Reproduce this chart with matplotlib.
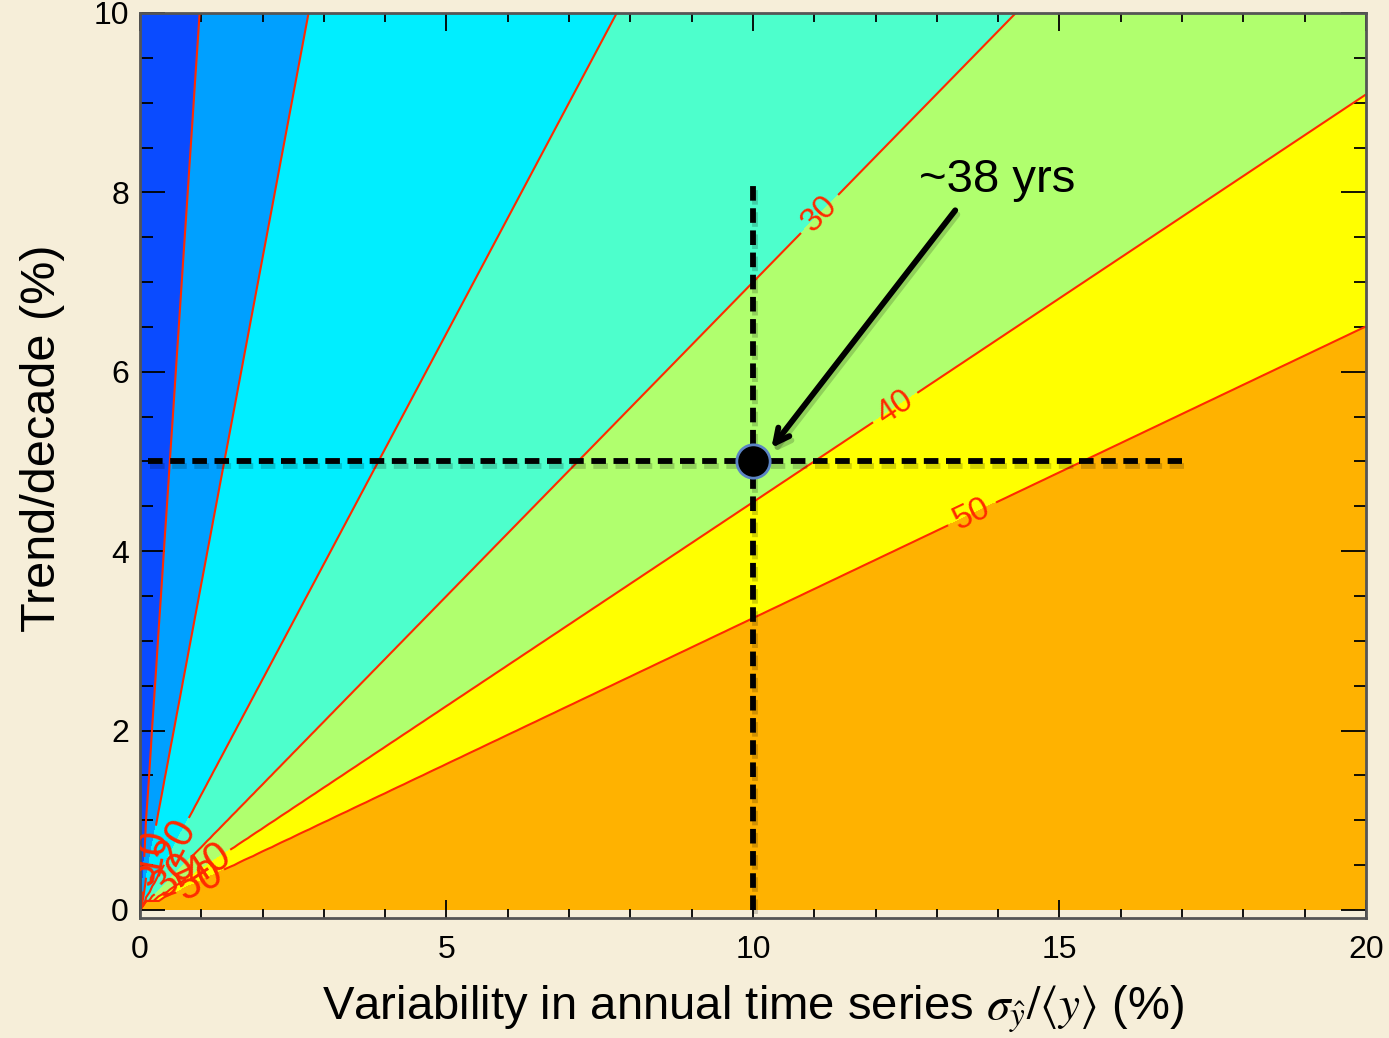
import numpy as np
import matplotlib
matplotlib.use('Agg')
from matplotlib import pyplot
from matplotlib import patheffects

# Years needed to detect a trend: n = (K * sigma / trend) ** (2/3), K.
K = 115.0
LEVELS = [5, 10, 20, 30, 40, 50]
FILL_BOUNDS = [0, 5, 10, 20, 30, 40, 50, 1e4]
FILL_COLORS = ['#0a4bff', '#00a0ff', '#00eeff', '#4dffcc', '#b0ff6e',
               '#ffff00', '#ffb200']
LINE_COLOR = '#ff2a00'

SIGMA_POINT = 10.0
TREND_POINT = 5.0
HLINE_X = (0.13, 17.0)
VLINE_Y = (0.0, 8.1)
ARROW_TAIL = (13.3, 7.8)
ARROW_HEAD = (10.3, 5.15)
ANNOT_TEXT = '~38 yrs'
ANNOT_POS = (13.98, 8.14)

LABELS_UPPER = [(11.1, 7.75), (12.35, 5.57), (13.6, 4.38)]
LABELS_ORIGIN = [(0.02, 0.4), (0.17, 0.65), (0.55, 0.78), (0.55, 0.38),
                 (1.15, 0.47), (1.0, 0.3)]

X_TICKS = [0, 5, 10, 15, 20]
Y_TICKS = [0, 2, 4, 6, 8, 10]

BACKGROUND = '#f6eed9'
FRAME = '#555555'


def detection_years(sigma, trend):
  with np.errstate(divide='ignore', invalid='ignore'):
    years = (K * sigma / trend) ** (2.0 / 3.0)
  years[trend == 0] = 1e4
  years[sigma == 0] = 0.0
  return years


def main():
  pyplot.rcParams['font.family'] = ['Liberation Sans', 'DejaVu Sans']
  pyplot.rcParams['mathtext.fontset'] = 'stix'

  fig = pyplot.figure(figsize=(13.89, 10.38), dpi=100, facecolor=BACKGROUND)
  ax = fig.add_axes([0.1008, 0.1156, 0.8826, 0.8719])
  ax.set_facecolor(BACKGROUND)

  sigma = np.linspace(0, 20, 201)
  trend = np.linspace(0, 10, 101)
  xx, yy = np.meshgrid(sigma, trend)
  years = detection_years(xx, yy)

  ax.contourf(xx, yy, years, levels=FILL_BOUNDS, colors=FILL_COLORS)
  cs = ax.contour(xx, yy, years, levels=LEVELS, colors=LINE_COLOR,
                  linewidths=1.5)

  ax.set_xlim(0, 20)
  ax.set_ylim(-0.09, 10)

  texts = ax.clabel(cs, fmt='%d', fontsize=24, inline=True, inline_spacing=8,
                    manual=LABELS_UPPER + LABELS_ORIGIN)
  for t in texts:
    x, y = t.get_position()
    if x < 2:
      t.set_fontsize(30)

  shadow = [patheffects.SimpleLineShadow(offset=(1.5, -3), alpha=0.18),
            patheffects.Normal()]
  ax.plot(HLINE_X, [TREND_POINT, TREND_POINT], color='black', lw=4.2,
          dashes=(2.5, 1.3), path_effects=shadow, zorder=5)
  ax.plot([SIGMA_POINT, SIGMA_POINT], VLINE_Y, color='black', lw=4.2,
          dashes=(2.5, 1.3), path_effects=shadow, zorder=5)
  ax.plot([SIGMA_POINT], [TREND_POINT], 'o', color='black', ms=24,
          mec='#5b84c4', mew=2, zorder=6)

  ax.annotate('', xy=ARROW_HEAD, xytext=ARROW_TAIL,
              arrowprops=dict(arrowstyle='->,head_length=1.0,head_width=0.5',
                              color='black', lw=4.2, shrinkA=0, shrinkB=0,
                              path_effects=shadow),
              zorder=7)
  ax.text(ANNOT_POS[0], ANNOT_POS[1], ANNOT_TEXT, ha='center', va='center',
          fontsize=34, zorder=7)

  ax.set_xticks(X_TICKS)
  ax.set_yticks(Y_TICKS)
  ax.set_xticks(np.arange(0, 21, 1), minor=True)
  ax.set_yticks(np.arange(0, 10.5, 0.5), minor=True)
  ax.tick_params(which='both', direction='in', top=True, right=True,
                 color='black', labelsize=23)
  ax.tick_params(axis='x', which='major', length=13, width=1.3, pad=12)
  ax.tick_params(axis='x', which='minor', length=6.5, width=1.3)
  ax.tick_params(axis='y', which='major', length=18, width=1.3, pad=8)
  ax.tick_params(axis='y', which='minor', length=9, width=1.3)
  for spine in ax.spines.values():
    spine.set_color(FRAME)
    spine.set_linewidth(2)

  ax.set_xlabel(r'Variability in annual time series $\sigma_{\hat{y}}/\langle y\rangle$ (%)',
                fontsize=34, labelpad=14)
  ax.set_ylabel('Trend/decade (%)', fontsize=35)
  ax.yaxis.set_label_coords(-0.061, 0.53)

  fig.savefig('out.png', dpi=100, facecolor=BACKGROUND)


if __name__ == '__main__':
  main()
